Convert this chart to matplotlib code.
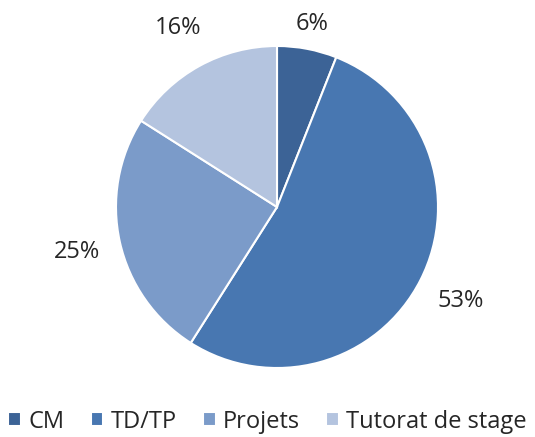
import matplotlib
matplotlib.use('Agg')
import matplotlib.pyplot as plt
import numpy as np

plt.rcParams['font.family'] = ['Open Sans', 'DejaVu Sans']

categories = ['CM', 'TD/TP', 'Projets', 'Tutorat de stage']
shares = [6, 53, 25, 16]
colors = ['#3C6396', '#4877B1', '#7B9BC9', '#B4C4DF']
label_dist = [1.16, 1.28, 1.27, 1.27]

fig = plt.figure(figsize=(5.35, 4.37), dpi=100)
# axes sized so the pie (radius 1) sits where the reference has it
ax = fig.add_axes([116 / 535, 69 / 437, 322 / 535, 322 / 437])
wedges, _ = ax.pie(shares, colors=colors, startangle=90, counterclock=False,
                   radius=1, wedgeprops=dict(edgecolor='white', linewidth=1.5))
ax.set_xlim(-1, 1)
ax.set_ylim(-1, 1)
ax.set_aspect('equal')
ax.axis('off')

for w, v, d in zip(wedges, shares, label_dist):
    th = np.deg2rad((w.theta1 + w.theta2) / 2)
    ax.text(d * np.cos(th), d * np.sin(th), f'{v}%', ha='center', va='center',
            fontsize=17, color='#262626', clip_on=False)

fig.legend(wedges, categories, loc='center', bbox_to_anchor=(0.5, 0.035), ncol=4,
           frameon=False, fontsize=17, handlelength=0.55, handleheight=0.55,
           handletextpad=0.3, columnspacing=1.1, labelcolor='#262626')

fig.savefig('out.png', dpi=100)
